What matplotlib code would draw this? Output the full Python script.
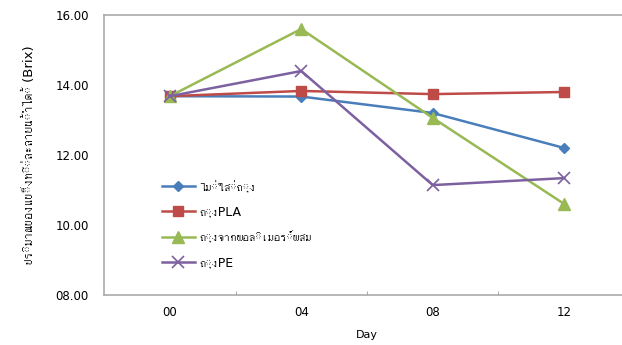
import matplotlib
matplotlib.use('Agg')
import matplotlib.pyplot as plt
from matplotlib import font_manager
from fontTools.ttLib import TTFont

days = ['00', '04', '08', '12']
no_bag = [13.68, 13.67, 13.20, 12.20]
pla_bag = [13.68, 13.83, 13.74, 13.80]
blend_bag = [13.68, 15.60, 13.06, 10.60]
pe_bag = [13.68, 14.40, 11.14, 11.34]
labels = ['ไม่ใส่ถุง', 'ถุงPLA', 'ถุงจากพอลิเมอร์ผสม', 'ถุงPE']
yticks = [8, 10, 12, 14, 16]

# look for any installed font that has Thai glyphs
thai = None
for f in font_manager.findSystemFonts():
    try:
        cmap = TTFont(f, fontNumber=0, lazy=True).getBestCmap()
    except Exception:
        continue
    if cmap and 0x0E16 in cmap and 0x0E07 in cmap:
        thai = font_manager.FontProperties(fname=f).get_name()
        font_manager.fontManager.addfont(f)
        break
fams = ['DejaVu Sans'] + ([thai] if thai else [])
plt.rcParams['font.family'] = fams

fig = plt.figure(figsize=(6.22, 3.45), dpi=100)
ax = fig.add_axes([104/622, 50/345, 526/622, 280/345])

x = range(len(days))
ax.plot(x, no_bag, color='#4A7EBB', lw=1.8, marker='D', ms=5, label=labels[0])
ax.plot(x, pla_bag, color='#BE4B48', lw=1.8, marker='s', ms=7, label=labels[1])
ax.plot(x, blend_bag, color='#98B954', lw=1.8, marker='^', ms=8, label=labels[2])
ax.plot(x, pe_bag, color='#7D60A0', lw=1.8, marker='x', ms=8, mew=1.2, label=labels[3])

ax.set_xlim(-0.5, 3.5)
ax.set_ylim(8, 16)
ax.set_xticks(list(x))
ax.set_xticklabels(days, fontsize=8.5)
ax.set_xticks([0.5, 1.5, 2.5], minor=True)
ax.tick_params(axis='x', which='major', length=0, pad=8)
ax.tick_params(axis='x', which='minor', length=3, direction='in', color='#999999')
ax.set_yticks(yticks)
ax.set_yticklabels(['%05.2f' % v for v in yticks], fontsize=8.5)
ax.tick_params(axis='y', length=0, pad=11)
for s in ['left', 'bottom', 'top']:
    ax.spines[s].set_color('#AAAAAA')
    ax.spines[s].set_linewidth(1.2)
ax.spines['right'].set_visible(False)

ax.set_xlabel('Day', fontsize=8, labelpad=8)
ax.set_ylabel('ปริมาณของแข็งที่ละลายน้ำได้ (Brix)', fontsize=9.5, labelpad=14)

ax.legend(loc='upper left', bbox_to_anchor=(0.088, 0.45), frameon=False,
          fontsize=9, handlelength=2.7, labelspacing=1.0, handletextpad=0.3)

fig.savefig('out.png', dpi=100)
